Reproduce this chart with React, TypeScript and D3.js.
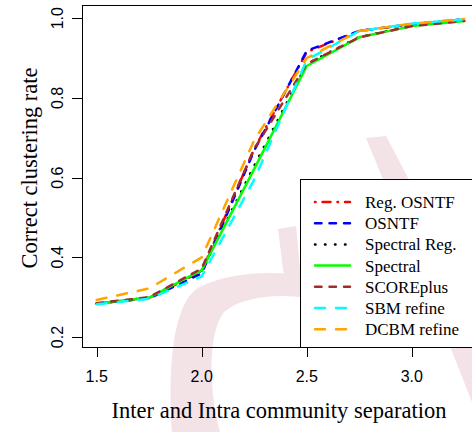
import React from "react";
import * as d3 from "d3";

// ---- data ----
const separation = [1.5, 1.75, 2.0, 2.25, 2.5, 2.75, 3.0, 3.25];
const regOSNTF = [0.284, 0.298, 0.365, 0.672, 0.915, 0.968, 0.985, 0.997];
const osntf = [0.284, 0.297, 0.36, 0.668, 0.918, 0.968, 0.985, 0.997];
const spectralReg = [0.284, 0.299, 0.367, 0.63, 0.885, 0.953, 0.981, 0.994];
const spectral = [0.284, 0.299, 0.368, 0.622, 0.88, 0.952, 0.98, 0.993];
const scorePlus = [0.285, 0.3, 0.372, 0.672, 0.885, 0.952, 0.98, 0.993];
const sbmRefine = [0.282, 0.296, 0.352, 0.595, 0.895, 0.968, 0.986, 0.997];
const dcbmRefine = [0.293, 0.322, 0.4, 0.694, 0.9, 0.968, 0.986, 0.998];

const seriesNames = [
  "Reg. OSNTF",
  "OSNTF",
  "Spectral Reg.",
  "Spectral",
  "SCOREplus",
  "SBM refine",
  "DCBM refine",
];
const seriesValues = [regOSNTF, osntf, spectralReg, spectral, scorePlus, sbmRefine, dcbmRefine];
const seriesColors = ["#ff0000", "#0000ff", "#000000", "#00ff00", "#a52a2a", "#00ffff", "#ffa500"];
const seriesDash = ["0.5,7,8,7", "6.5,8", "0.5,9.5", "", "6.5,8", "10,11", "10,11"];

const xTicks = [1.5, 2.0, 2.5, 3.0];
const yTicks = [0.2, 0.4, 0.6, 0.8, 1.0];

const xTitle = "Inter and Intra community separation";
const yTitle = "Correct clustering rate";

export default function App() {
  const W = 472;
  const H = 432;
  const left = 82;
  const right = 479;
  const top = 5;
  const bottom = 347;

  const x = d3.scaleLinear().domain([1.43, 3.32]).range([left, right]);
  const y = d3.scaleLinear().domain([0.175, 1.033]).range([bottom, top]);

  const line = d3
    .line<number>()
    .x((_, i) => x(separation[i]))
    .y((d) => y(d));

  const sans = "'Liberation Sans', Arial, sans-serif";
  const serif = "'Liberation Serif', 'Times New Roman', serif";
  const pink = "#f3e2e6";

  const legX = 300;
  const legY = 179;
  const rowY0 = 202;
  const rowStep = 21.2;

  return (
    <svg
      width={W}
      height={H}
      style={{ position: "absolute", left: 0, top: 0, background: "#fff" }}
    >
      {/* watermark */}
      <g fill={pink} stroke="none">
        <path d="M172,432 C168,370 172,305 198,288 C235,268 300,270 332,283 L330,302 C290,292 245,294 224,312 C206,335 210,395 220,432 Z" />
        <path d="M278,229 L296,226 L302,290 L286,293 Z" />
        <path d="M366,138 L386,136 C420,200 450,260 472,300 L472,402 C440,320 400,220 366,138 Z" />
      </g>

      {/* series lines */}
      <g fill="none" strokeWidth={2.5} strokeLinecap="round" strokeLinejoin="round">
        {seriesValues.map((vals, k) => (
          <path
            key={seriesNames[k]}
            d={line(vals) || ""}
            stroke={seriesColors[k]}
            strokeDasharray={seriesDash[k] || undefined}
          />
        ))}
      </g>

      {/* plot box */}
      <rect
        x={left + 0.5}
        y={top + 0.5}
        width={right - left}
        height={bottom - top}
        fill="none"
        stroke="#000"
        strokeWidth={1}
      />

      {/* x axis */}
      <g fontFamily={sans} fontSize={16} fill="#000">
        {xTicks.map((t) => (
          <g key={t}>
            <line
              x1={Math.round(x(t)) + 0.5}
              x2={Math.round(x(t)) + 0.5}
              y1={bottom}
              y2={bottom + 10}
              stroke="#000"
            />
            <text x={x(t)} y={382} textAnchor="middle">
              {t.toFixed(1)}
            </text>
          </g>
        ))}
      </g>

      {/* y axis */}
      <g fontFamily={sans} fontSize={16} fill="#000">
        {yTicks.map((t) => (
          <g key={t}>
            <line
              x1={left - 10}
              x2={left}
              y1={Math.round(y(t)) + 0.5}
              y2={Math.round(y(t)) + 0.5}
              stroke="#000"
            />
            <text
              transform={`translate(63,${y(t)}) rotate(-90)`}
              textAnchor="middle"
            >
              {t.toFixed(1)}
            </text>
          </g>
        ))}
      </g>

      {/* axis titles */}
      <text
        x={279}
        y={418}
        textAnchor="middle"
        fontFamily={serif}
        fontSize={22.5}
        fill="#000"
      >
        {xTitle}
      </text>
      <text
        transform={`translate(37,168) rotate(-90)`}
        textAnchor="middle"
        fontFamily={serif}
        fontSize={22.5}
        fill="#000"
      >
        {yTitle}
      </text>

      {/* legend */}
      <rect
        x={legX + 0.5}
        y={legY + 0.5}
        width={right - legX}
        height={bottom - legY}
        fill="#fff"
        stroke="#000"
        strokeWidth={1}
      />
      {seriesNames.map((name, k) => {
        const ry = rowY0 + k * rowStep;
        return (
          <g key={name}>
            <line
              x1={315}
              x2={350}
              y1={ry}
              y2={ry}
              stroke={seriesColors[k]}
              strokeWidth={2.5}
              strokeLinecap="round"
              strokeDasharray={seriesDash[k] || undefined}
            />
            <text
              x={365}
              y={ry + 6}
              fontFamily={serif}
              fontSize={17}
              fill="#000"
            >
              {name}
            </text>
          </g>
        );
      })}
    </svg>
  );
}
